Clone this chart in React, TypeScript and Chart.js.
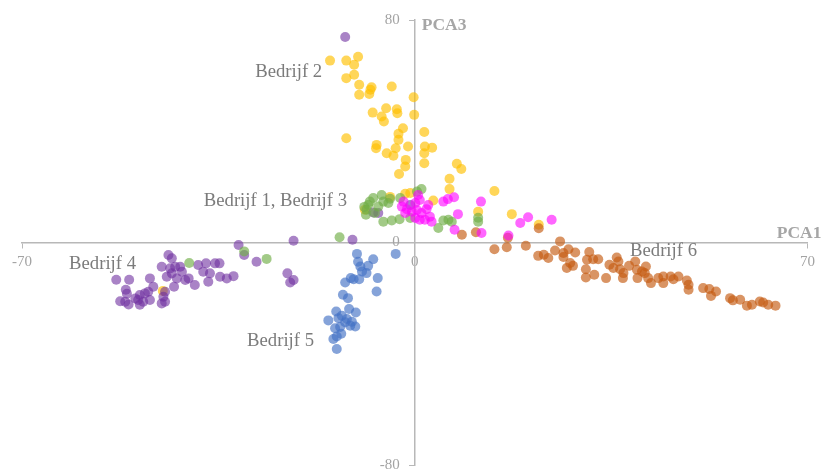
import React, { useEffect, useRef } from 'react';
import { Chart, registerables } from 'chart.js';

Chart.register(...registerables);

type Pt = [number, number];

const X_TICKS = [-70, 0, 70];
const Y_TICKS = [-80, 0, 80];
const X_TITLE = 'PCA1';
const Y_TITLE = 'PCA3';

// Bedrijf 1 (green)
const bedrijf1: Pt[] = [
  [1.2, 19.2], [-5.9, 17.1], [-7.4, 16.0], [-8.0, 14.7], [-8.3, 13.5], [-8.6, 11.8], [-8.7, 10.0],
  [-5.6, 14.7], [-4.7, 14.2], [-4.4, 15.7], [-6.5, 12.9], [-7.1, 10.6], [-5.6, 7.5], [-4.1, 7.9],
  [-2.7, 8.4], [-0.8, 8.8], [4.2, 5.2], [5.1, 7.9], [6.0, 8.2], [6.6, 7.5], [11.3, 7.5], [11.3, 8.9],
  [-2.6, 16.0], [0.4, 18.3], [-13.4, 1.9], [-30.4, -3.2], [-26.4, -5.9], [-40.2, -7.4], [-9.0, 12.8],
];

// Bedrijf 2 (yellow)
const bedrijf2: Pt[] = [
  [-15.1, 65.4], [-12.2, 65.4], [-10.1, 66.8], [-10.8, 63.9], [-10.8, 60.3], [-12.2, 59.1], [-9.9, 56.7],
  [-7.7, 55.8], [-7.9, 54.9], [-8.1, 53.4], [-9.9, 53.1], [-4.1, 56.1], [-0.2, 52.2], [-7.5, 46.7],
  [-5.1, 48.3], [-3.2, 47.9], [-3.1, 46.5], [-5.9, 45.3], [-5.5, 43.5], [-0.1, 45.9], [-12.2, 37.5],
  [-2.1, 41.1], [-2.9, 39.1], [-2.9, 36.9], [-6.8, 35.1], [-6.9, 33.9], [-3.4, 33.9], [-1.2, 34.5],
  [-5.0, 32.1], [-3.8, 31.2], [-1.6, 29.7], [-1.7, 27.3], [-2.8, 24.6], [1.7, 39.7], [1.8, 34.5],
  [3.1, 34.1], [1.7, 32.1], [1.7, 28.5], [7.5, 28.3], [8.3, 26.4], [6.2, 22.9], [6.2, 19.2],
  [14.2, 18.5], [3.3, 15.1], [11.3, 11.1], [17.3, 10.2], [22.1, 6.4], [-8.9, 11.8], [-1.7, 17.5],
  [-0.8, 17.8], [-4.4, 16.4], [-44.9, -17.4],
];

// Bedrijf 3 (magenta)
const bedrijf3: Pt[] = [
  [0.6, 17.1], [0.9, 15.3], [0.1, 14.2], [-2.0, 14.7], [-2.3, 12.9], [-1.4, 12.0], [-0.5, 11.1],
  [0.4, 11.7], [1.2, 10.6], [2.1, 12.0], [2.4, 13.5], [2.7, 9.3], [0.1, 8.8], [0.9, 8.2], [1.8, 8.2],
  [3.0, 7.5], [5.1, 14.7], [5.9, 15.6], [7.0, 16.3], [11.8, 14.7], [7.7, 10.2], [7.1, 4.6],
  [11.9, 3.4], [18.8, 7.0], [20.2, 9.1], [24.4, 8.2], [16.7, 2.5], [-1.7, 10.6],
];

// Bedrijf 4 (purple)
const bedrijf4: Pt[] = [
  [-53.2, -13.4], [-50.9, -13.4], [-47.2, -12.9], [-51.5, -17.0], [-51.3, -18.4], [-52.5, -21.1],
  [-51.6, -21.3], [-51.0, -22.3], [-49.8, -20.1], [-49.0, -18.9], [-48.1, -18.3], [-47.5, -17.7],
  [-49.3, -20.7], [-48.4, -21.3], [-47.2, -20.7], [-49.0, -22.4], [-46.6, -15.9], [-44.8, -19.5],
  [-44.5, -21.3], [-45.1, -21.9], [-44.5, -17.7], [-43.9, -4.5], [-43.3, -5.7], [-45.1, -8.7],
  [-43.6, -9.3], [-42.7, -8.7], [-41.8, -8.7], [-41.5, -10.5], [-43.3, -11.1], [-44.2, -12.3],
  [-42.4, -12.9], [-40.9, -13.5], [-40.3, -12.9], [-39.2, -15.3], [-38.6, -8.1], [-37.2, -7.5],
  [-37.7, -10.5], [-36.5, -11.1], [-36.8, -14.1], [-35.6, -7.5], [-34.8, -7.5], [-34.7, -12.3],
  [-33.5, -12.9], [-32.3, -12.1], [-42.9, -15.9], [-31.4, -0.9], [-30.4, -4.5], [-28.2, -6.9],
  [-21.6, 0.6], [-22.7, -11.1], [-22.2, -14.4], [-21.6, -13.5], [-11.1, 1.0], [-12.4, 73.9],
  [-7.4, 10.8], [-6.5, 10.6], [-0.8, 13.5],
];

// Bedrijf 5 (blue)
const bedrijf5: Pt[] = [
  [-10.3, -4.1], [-10.1, -6.9], [-9.7, -8.6], [-8.3, -8.4], [-7.4, -6.0], [-3.4, -4.1], [-9.4, -10.4],
  [-8.6, -11.0], [-9.9, -13.2], [-10.9, -13.2], [-12.4, -14.4], [-11.4, -12.8], [-6.6, -12.8],
  [-6.8, -17.6], [-12.8, -18.8], [-11.9, -20.0], [-11.7, -23.9], [-10.5, -25.2], [-14.0, -24.8],
  [-15.4, -28.0], [-13.6, -27.2], [-12.1, -27.5], [-12.4, -28.7], [-13.3, -30.4], [-14.2, -30.8],
  [-11.5, -29.9], [-10.6, -30.2], [-13.9, -33.8], [-13.1, -32.8], [-14.5, -34.7], [-13.9, -38.3],
  [-13.0, -26.3], [-11.2, -28.5],
];

// Bedrijf 6 (orange)
const bedrijf6: Pt[] = [
  [8.4, 2.8], [10.9, 3.7], [14.2, -2.4], [16.4, -1.7], [19.8, -1.2], [22.1, 5.1], [25.9, 0.4],
  [22.0, -4.8], [23.0, -4.4], [23.8, -5.6], [25.0, -2.9], [26.5, -3.8], [27.4, -2.4], [28.6, -3.6],
  [26.5, -5.2], [27.7, -7.4], [28.2, -8.4], [27.1, -9.2], [31.1, -3.4], [30.7, -6.2], [31.8, -6.0],
  [32.7, -6.0], [30.5, -9.6], [32.0, -11.6], [30.5, -12.6], [34.1, -12.8], [34.7, -8.0], [36.0, -5.4],
  [36.3, -6.8], [35.4, -9.2], [36.6, -9.6], [37.2, -11.0], [37.1, -12.8], [38.2, -8.4], [39.3, -6.8],
  [39.6, -9.8], [39.7, -12.8], [40.5, -10.4], [41.2, -8.6], [41.0, -11.0], [41.6, -12.8], [42.1, -14.6],
  [43.4, -12.8], [44.3, -12.2], [44.3, -14.6], [45.6, -12.2], [46.1, -13.2], [47.0, -12.2],
  [48.5, -13.7], [48.8, -15.2], [48.8, -17.0], [51.4, -16.4], [52.5, -16.7], [52.8, -19.2],
  [53.7, -17.6], [56.2, -20.0], [56.7, -20.8], [58.0, -20.6], [59.2, -22.7], [60.1, -22.4],
  [61.5, -21.2], [62.1, -21.6], [63.0, -22.4], [64.3, -22.7], [16.6, 1.7],
];

const LABEL_TEXTS = ['Bedrijf 2', 'Bedrijf 1, Bedrijf 3', 'Bedrijf 4', 'Bedrijf 5', 'Bedrijf 6'];
const LABEL_ANCHORS: Pt[] = [[-16.5, 59.65], [-12.07, 13.19], [-61.61, -9.45], [-17.95, -37.12], [38.37, -4.78]];
const LABEL_ALIGN: CanvasTextAlign[] = ['right', 'right', 'left', 'right', 'left'];

const SERIF = "'Liberation Serif', 'Times New Roman', serif";
const AXIS_COLOR = '#B8B8B8';

const toXY = (arr: Pt[]) => arr.map(([x, y]) => ({ x, y }));

export default function App() {
  const ref = useRef<HTMLCanvasElement | null>(null);

  useEffect(() => {
    if (!ref.current) return;

    const labelPlugin = {
      id: 'annotLabels',
      afterDatasetsDraw(chart: any) {
        const { ctx } = chart;
        const xs = chart.scales.x;
        const ys = chart.scales.y;
        ctx.save();
        ctx.font = `18.7px ${SERIF}`;
        ctx.fillStyle = '#7B7B7B';
        ctx.textBaseline = 'alphabetic';
        LABEL_TEXTS.forEach((t, i) => {
          ctx.textAlign = LABEL_ALIGN[i];
          ctx.fillText(t, xs.getPixelForValue(LABEL_ANCHORS[i][0]), ys.getPixelForValue(LABEL_ANCHORS[i][1]));
        });
        ctx.font = `bold 17.5px ${SERIF}`;
        ctx.fillStyle = '#A6A6A6';
        ctx.textAlign = 'left';
        ctx.fillText(Y_TITLE, xs.getPixelForValue(0) + 7, ys.top + 10);
        ctx.textAlign = 'right';
        ctx.fillText(X_TITLE, xs.right + 14, ys.getPixelForValue(0) - 5);
        ctx.restore();
      },
    };

    const zeroPad = (s: any) => {
      s.paddingLeft = 0;
      s.paddingRight = 0;
      s.paddingTop = 0;
      s.paddingBottom = 0;
    };

    const tickFont = { family: SERIF, size: 15 };

    const chart = new Chart(ref.current, {
      type: 'scatter',
      data: {
        datasets: [
          { label: 'Bedrijf 3', data: toXY(bedrijf3), backgroundColor: 'rgba(255,0,255,0.6)' },
          { label: 'Bedrijf 1', data: toXY(bedrijf1), backgroundColor: 'rgba(112,173,71,0.65)' },
          { label: 'Bedrijf 4', data: toXY(bedrijf4), backgroundColor: 'rgba(112,48,160,0.6)' },
          { label: 'Bedrijf 5', data: toXY(bedrijf5), backgroundColor: 'rgba(68,114,196,0.65)' },
          { label: 'Bedrijf 6', data: toXY(bedrijf6), backgroundColor: 'rgba(197,90,17,0.65)' },
          { label: 'Bedrijf 2', data: toXY(bedrijf2), backgroundColor: 'rgba(255,192,0,0.65)' },
        ].map((d) => ({ ...d, pointRadius: 5, pointHoverRadius: 5, borderWidth: 0, pointBorderWidth: 0 })),
      },
      options: {
        animation: false,
        responsive: true,
        maintainAspectRatio: false,
        layout: { padding: { left: 22, right: 15.5, top: 20, bottom: 4.7 } },
        plugins: { legend: { display: false }, tooltip: { enabled: false } },
        scales: {
          x: {
            type: 'linear',
            position: { y: 0 } as any,
            min: -70,
            max: 70,
            afterBuildTicks: (s: any) => {
              s.ticks = X_TICKS.map((v) => ({ value: v }));
            },
            afterFit: zeroPad,
            ticks: { font: tickFont, color: '#A3A3A3', padding: 6, maxRotation: 0, autoSkip: false },
            grid: { drawOnChartArea: false, drawTicks: true, tickLength: 5, color: AXIS_COLOR, lineWidth: 1 },
            border: { display: true, color: AXIS_COLOR, width: 1.5 },
          },
          y: {
            type: 'linear',
            position: { x: 0 } as any,
            min: -80,
            max: 80,
            afterBuildTicks: (s: any) => {
              s.ticks = Y_TICKS.map((v) => ({ value: v }));
            },
            afterFit: zeroPad,
            ticks: {
              font: tickFont,
              color: '#A3A3A3',
              padding: 10,
              autoSkip: false,
              callback: (v: any) => `${v}\u2002\u2002`,
            },
            grid: { drawOnChartArea: false, drawTicks: true, tickLength: 5, color: AXIS_COLOR, lineWidth: 1 },
            border: { display: true, color: AXIS_COLOR, width: 1.5 },
          },
        },
      },
      plugins: [labelPlugin],
    });

    return () => chart.destroy();
  }, []);

  return (
    <div style={{ position: 'absolute', left: 0, top: 0, width: 823, height: 470 }}>
      <canvas ref={ref} />
    </div>
  );
}
